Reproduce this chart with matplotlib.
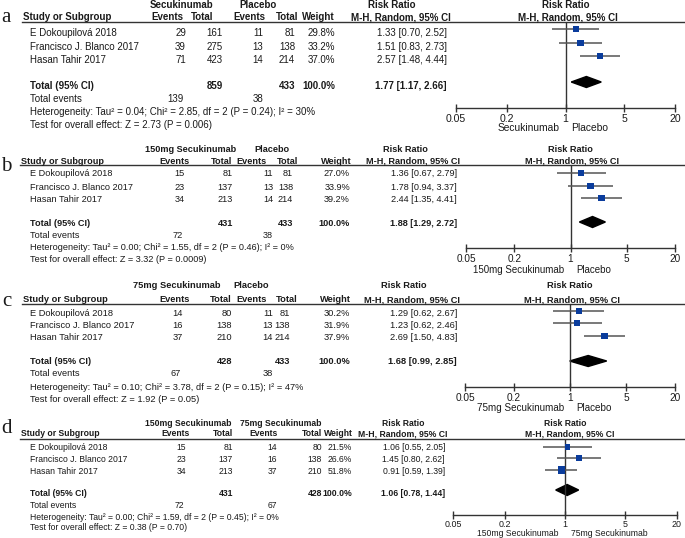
import matplotlib
matplotlib.use("Agg")
import numpy as np
import matplotlib.pyplot as plt
from matplotlib.patches import Polygon
from matplotlib.ticker import NullLocator

plt.rcParams['font.family'] = ['Liberation Sans', 'DejaVu Sans']

# ---- data ----
studies = ["E Dokoupilová 2018", "Francisco J. Blanco 2017", "Hasan Tahir 2017"]

# a: Secukinumab vs Placebo
a_groups = ["Secukinumab", "Placebo"]
a_ev1 = [29, 39, 71]
a_n1 = [161, 275, 423]
a_ev2 = [11, 13, 14]
a_n2 = [81, 138, 214]
a_weight = [29.8, 33.2, 37.0]
a_rr = [1.33, 1.51, 2.57]
a_lo = [0.70, 0.83, 1.48]
a_hi = [2.52, 2.73, 4.44]
a_total = [1.77, 1.17, 2.66]
a_het = ["0.04", "2.85", 2, "0.24", 30]
a_test = ["2.73", "0.006"]

# b: 150mg Secukinumab vs Placebo
b_groups = ["150mg Secukinumab", "Placebo"]
b_ev1 = [15, 23, 34]
b_n1 = [81, 137, 213]
b_ev2 = [11, 13, 14]
b_n2 = [81, 138, 214]
b_weight = [27.0, 33.9, 39.2]
b_rr = [1.36, 1.78, 2.44]
b_lo = [0.67, 0.94, 1.35]
b_hi = [2.79, 3.37, 4.41]
b_total = [1.88, 1.29, 2.72]
b_het = ["0.00", "1.55", 2, "0.46", 0]
b_test = ["3.32", "0.0009"]

# c: 75mg Secukinumab vs Placebo
c_groups = ["75mg Secukinumab", "Placebo"]
c_ev1 = [14, 16, 37]
c_n1 = [80, 138, 210]
c_ev2 = [11, 13, 14]
c_n2 = [81, 138, 214]
c_weight = [30.2, 31.9, 37.9]
c_rr = [1.29, 1.23, 2.69]
c_lo = [0.62, 0.62, 1.50]
c_hi = [2.67, 2.46, 4.83]
c_total = [1.68, 0.99, 2.85]
c_het = ["0.10", "3.78", 2, "0.15", 47]
c_test = ["1.92", "0.05"]

# d: 150mg vs 75mg Secukinumab
d_groups = ["150mg Secukinumab", "75mg Secukinumab"]
d_ev1 = [15, 23, 34]
d_n1 = [81, 137, 213]
d_ev2 = [14, 16, 37]
d_n2 = [80, 138, 210]
d_weight = [21.5, 26.6, 51.8]
d_rr = [1.06, 1.45, 0.91]
d_lo = [0.55, 0.80, 0.59]
d_hi = [2.05, 2.62, 1.39]
d_total = [1.06, 0.78, 1.44]
d_het = ["0.00", "1.59", 2, "0.45", 0]
d_test = ["0.38", "0.70"]

total_weight = 100.0
ticks = [0.05, 0.2, 1, 5, 20]
tick_labels = ["0.05", "0.2", "1", "5", "20"]

# ---- layout (pixels) ----
lay = {
    'a': dict(fs=7.0, lx=1, ly=22, h1=5, h2=17, line=22, rows=[33, 47, 60], tot=86, ev=99, het=112, test=125,
              axis=108, dir=128, xa=456, xb=675, off=-4, lx0=22, tfs=7.6, pad=1.5,
              g1=182, g2=258, hev1=183, hn1=213, hev2=265, hn2=298, hw=335,
              ev1=186, n1=223, ev2=263, n2=295, w=335, ci=447, rr1=392, mh1=401, rr2=566, mh2=568, dy=82),
    'b': dict(fs=6.6, lx=1, ly=171, h1=150, h2=161, line=165, rows=[174, 187, 199], tot=223, ev=235, het=247, test=260,
              axis=248, dir=270, xa=466, xb=675, off=-1, lx0=20, tfs=7.2, pad=1.5,
              g1=191, g2=272, hev1=190, hn1=232, hev2=267, hn2=298, hw=352,
              ev1=185, n1=233, ev2=273, n2=293, w=350, ci=457, rr1=405, mh1=413, rr2=570, mh2=572, dy=222),
    'c': dict(fs=6.7, lx=2, ly=306, h1=285, h2=300, line=304, rows=[313, 325, 338], tot=362, ev=374, het=387, test=400,
              axis=387, dir=408, xa=465, xb=675, off=-2, lx0=22, tfs=7.3, pad=1.5,
              g1=177, g2=251, hev1=190, hn1=232, hev2=267, hn2=298, hw=351,
              ev1=183, n1=232, ev2=273, n2=290, w=350, ci=457, rr1=404, mh1=412, rr2=570, mh2=572, dy=361),
    'd': dict(fs=6.2, lx=1, ly=433, h1=424, h2=434, line=439, rows=[448, 459, 471], tot=493, ev=505, het=517, test=528,
              axis=515, dir=534, xa=453, xb=677, off=-1, lx0=20, tfs=6.4, pad=0.3,
              g1=188, g2=281, hev1=190, hn1=233, hev2=278, hn2=322, hw=353,
              ev1=186, n1=233, ev2=277, n2=322, w=352, ci=445, rr1=403, mh1=403, rr2=565, mh2=570, dy=490),
}

panels = [
    ('a', a_groups, a_ev1, a_n1, a_ev2, a_n2, a_weight, a_rr, a_lo, a_hi, a_total, a_het, a_test),
    ('b', b_groups, b_ev1, b_n1, b_ev2, b_n2, b_weight, b_rr, b_lo, b_hi, b_total, b_het, b_test),
    ('c', c_groups, c_ev1, c_n1, c_ev2, c_n2, c_weight, c_rr, c_lo, c_hi, c_total, c_het, c_test),
    ('d', d_groups, d_ev1, d_n1, d_ev2, d_n2, d_weight, d_rr, d_lo, d_hi, d_total, d_het, d_test),
]

TXT = "#1a1a1a"
LINE = "#333333"
BLUE = "#0a3c9c"
W, H = 685, 538

fig = plt.figure(figsize=(6.85, 5.38), dpi=100)
ov = fig.add_axes([0, 0, 1, 1])
ov.set_xlim(0, W)
ov.set_ylim(H, 0)
ov.axis('off')

for key, groups, ev1, n1, ev2, n2, weight, rr, lo, hi, total, het, test in panels:
    L = lay[key]
    fs = L['fs']

    def t(x, y, s, ha='left', bold=False, size=fs):
        ov.text(x, y, s, ha=ha, va='center', fontsize=size, color=TXT,
                fontweight='bold' if bold else 'normal')

    ov.text(L['lx'], L['ly'], key, fontsize=15, family='Liberation Serif', color=TXT, va='baseline')

    # headers
    t(L['g1'], L['h1'], groups[0], 'center', True)
    t(L['g2'], L['h1'], groups[1], 'center', True)
    t(L['rr1'], L['h1'], "Risk Ratio", 'center', True)
    t(L['rr2'], L['h1'], "Risk Ratio", 'center', True)
    t(L['lx0'] + 1, L['h2'], "Study or Subgroup", 'left', True)
    t(L['hev1'], L['h2'], "Events", 'right', True)
    t(L['hn1'], L['h2'], "Total", 'right', True)
    t(L['hev2'], L['h2'], "Events", 'right', True)
    t(L['hn2'], L['h2'], "Total", 'right', True)
    t(L['hw'], L['h2'], "Weight", 'right', True)
    t(L['mh1'], L['h2'], "M-H, Random, 95% CI", 'center', True)
    t(L['mh2'], L['h2'], "M-H, Random, 95% CI", 'center', True)
    ov.plot([L['lx0'], W], [L['line'], L['line']], color=LINE, lw=1.0)

    # study rows
    for i, name in enumerate(studies):
        y = L['rows'][i]
        t(30, y, name)
        t(L['ev1'], y, str(ev1[i]), 'right')
        t(L['n1'], y, str(n1[i]), 'right')
        t(L['ev2'], y, str(ev2[i]), 'right')
        t(L['n2'], y, str(n2[i]), 'right')
        t(L['w'], y, f"{weight[i]:.1f}%", 'right')
        t(L['ci'], y, f"{rr[i]:.2f} [{lo[i]:.2f}, {hi[i]:.2f}]", 'right')

    t(30, L['tot'], "Total (95% CI)", 'left', True)
    t(L['n1'], L['tot'], str(sum(n1)), 'right', True)
    t(L['n2'], L['tot'], str(sum(n2)), 'right', True)
    t(L['w'], L['tot'], f"{total_weight:.1f}%", 'right', True)
    t(L['ci'], L['tot'], f"{total[0]:.2f} [{total[1]:.2f}, {total[2]:.2f}]", 'right', True)
    t(30, L['ev'], "Total events")
    t(L['ev1'] - 2, L['ev'], str(sum(ev1)), 'right')
    t(L['ev2'], L['ev'], str(sum(ev2)), 'right')
    t(30, L['het'], f"Heterogeneity: Tau² = {het[0]}; Chi² = {het[1]}, df = {het[2]} (P = {het[3]}); I² = {het[4]}%")
    t(30, L['test'], f"Test for overall effect: Z = {test[0]} (P = {test[1]})")

    # forest plot
    xa, xb = L['xa'], L['xb']
    ax = fig.add_axes([xa / W, 1 - L['axis'] / H, (xb - xa) / W, (L['axis'] - L['line']) / H])
    ax.set_xscale('log')
    ax.set_xlim(0.05, 20)
    ax.set_ylim(L['axis'], L['line'])
    ax.patch.set_alpha(0)
    for s in ['top', 'right', 'left']:
        ax.spines[s].set_visible(False)
    ax.spines['bottom'].set_color(LINE)
    ax.spines['bottom'].set_linewidth(1.0)
    ax.set_yticks([])
    ax.set_xticks(ticks)
    ax.set_xticklabels(tick_labels)
    ax.xaxis.set_minor_locator(NullLocator())
    ax.tick_params(axis='x', direction='inout', length=6, width=1.0, color=LINE,
                   labelsize=L['tfs'], labelcolor=TXT, pad=L['pad'])
    ax.axvline(1, color=LINE, lw=1.0)

    ys = [r + L['off'] for r in L['rows']]
    ax.hlines(ys, lo, hi, color="#555555", lw=1.1, clip_on=False)
    sizes = [(1.1 * np.sqrt(w) * 0.72) ** 2 for w in weight]
    ax.scatter(rr, ys, s=sizes, marker='s', color=BLUE, zorder=3, clip_on=False, linewidths=0)
    dy, hh = L['dy'], 5.5
    ax.add_patch(Polygon([(total[1], dy), (total[0], dy - hh), (total[2], dy), (total[0], dy + hh)],
                         closed=True, color='black', clip_on=False))

    x1 = xa + (xb - xa) * np.log10(1 / 0.05) / np.log10(400)
    t(x1 - 6, L['dir'], groups[0], 'right', size=L['tfs'] - 0.2)
    t(x1 + 6, L['dir'], groups[1], 'left', size=L['tfs'] - 0.2)

fig.savefig("out.png", dpi=100)
